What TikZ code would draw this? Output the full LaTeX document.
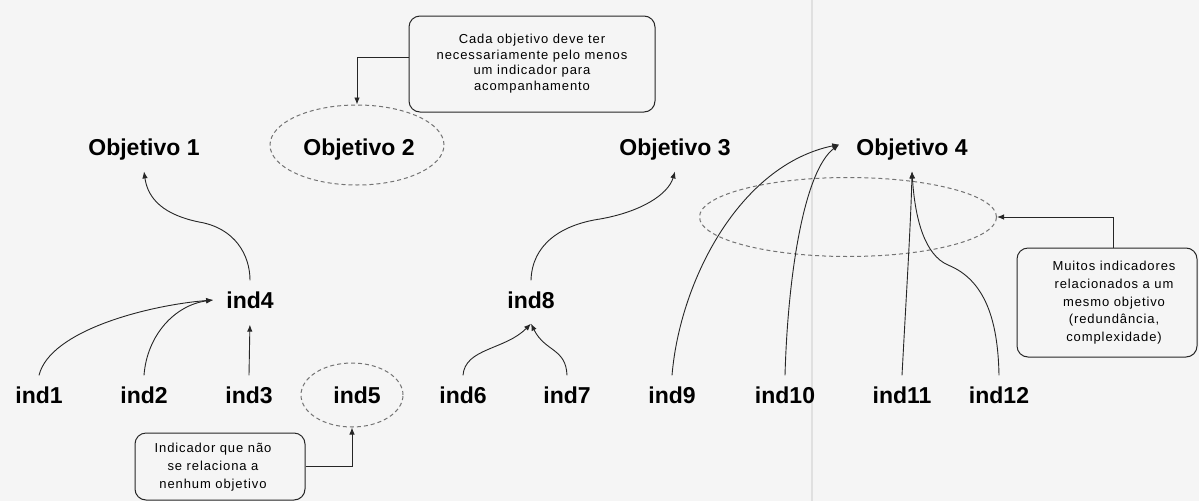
\documentclass[tikz,border=0pt]{standalone}
\usepackage{fontspec}
\setmainfont{Liberation Sans}
\usetikzlibrary{arrows.meta,shapes.geometric,calc}
\begin{document}
\begin{tikzpicture}[x=1pt,y=-1pt,
  lbl/.style={font=\fontsize{23}{26}\selectfont\bfseries, inner xsep=3pt, inner ysep=11pt},
  link/.style={draw=black!85, line width=0.9pt, -{Latex[length=7pt,width=5.5pt]}},
  ring/.style={ellipse, draw=black!55, dash pattern=on 4pt off 3pt, line width=1pt, inner sep=0pt},
  note/.style={draw=black!85, line width=1pt, rounded corners=11pt, align=center, inner sep=0pt,
    font=\fontsize{13}{17}\selectfont\addfontfeature{LetterSpace=7}},
]
% paper and frame
\fill[white!96!black] (0,0) rectangle (1199,501);
\useasboundingbox (0,0) rectangle (1199,501);
\draw[black!12, line width=1.2pt] (812,0) -- (812,501);

% objectives
\node[lbl] (obj1) at (144,149.5) {Objetivo 1};
\node[lbl] (obj2) at (359,149.5) {Objetivo 2};
\node[lbl] (obj3) at (675,149.5) {Objetivo 3};
\node[lbl] (obj4) at (912,149.5) {Objetivo 4};

% indicators
\node[lbl] (ind4) at (250,300) {ind4};
\node[lbl] (ind8) at (531,300) {ind8};
\node[lbl] (ind1) at (39,395) {ind1};
\node[lbl] (ind2) at (144,395) {ind2};
\node[lbl] (ind3) at (249,395) {ind3};
\node[lbl] (ind5) at (357,395) {ind5};
\node[lbl] (ind6) at (463,395) {ind6};
\node[lbl] (ind7) at (567,395) {ind7};
\node[lbl] (ind9) at (672,395) {ind9};
\node[lbl] (ind10) at (785,395) {ind10};
\node[lbl] (ind11) at (902,395) {ind11};
\node[lbl] (ind12) at (999,395) {ind12};

% dashed highlights
\node[ring, minimum width=174pt, minimum height=80pt] (ring2) at (357,145) {};
\node[ring, minimum width=102pt, minimum height=64pt] (ring5) at (352,395) {};
\node[ring, minimum width=297pt, minimum height=79pt] (ring4) at (848,217) {};

% notes
\node[note, minimum width=246pt, minimum height=96pt, font=\fontsize{13}{15.5}\selectfont\addfontfeature{LetterSpace=7}] (note2) at (532,64)
  {\raisebox{8pt}{\begin{tabular}{@{}c@{}}Cada objetivo deve ter\\necessariamente pelo menos\\um indicador para\\acompanhamento\end{tabular}}};
\node[note, minimum width=170pt, minimum height=67pt, font=\fontsize{13}{18}\selectfont\addfontfeature{LetterSpace=7}] (note5) at (220,466.5)
  {\kern-14pt\raisebox{-3.5pt}{\begin{tabular}{@{}c@{}}Indicador que não\\se relaciona a\\nenhum objetivo\end{tabular}}};
\node[note, minimum width=180pt, minimum height=109pt, font=\fontsize{13}{17.75}\selectfont\addfontfeature{LetterSpace=7}] (note4) at (1107,302.5)
  {\kern14pt\raisebox{-5pt}{\begin{tabular}{@{}c@{}}Muitos indicadores\\relacionados a um\\mesmo objetivo\\(redundância,\\complexidade)\end{tabular}}};

% note pointers
\draw[link] ([yshift=7pt]note2.west) -| (ring2.north);
\draw[link] (note5.east) -| (ring5.south);
\draw[link] ([xshift=6pt]note4.north) |- (ring4.east);

% indicator links
\draw[link] (ind1.north) .. controls (50,330) and (150,305) .. ([xshift=-10pt]ind4.west);
\draw[link] (ind2.north) .. controls (147,335) and (175,305) .. ([xshift=-10pt]ind4.west);
\draw[link, shorten >=5pt] (ind3.north) -- (ind4.south);
\draw[link] (ind4.north) .. controls (250,255) and (235,228) .. (199,222)
  .. controls (165,215) and (148,200) .. (obj1.south);

\draw[link] (ind6.north) .. controls (465,348) and (505,350) .. ([yshift=-4pt]ind8.south);
\draw[link] (ind7.north) .. controls (566,348) and (545,352) .. ([yshift=-4pt]ind8.south);
\draw[link] (ind8.north) .. controls (532,245) and (560,225) .. (600,219)
  .. controls (640,212) and (668,195) .. (obj3.south);

\draw[link] (ind9.north) .. controls (680,280) and (740,165) .. ([xshift=-14pt,yshift=5pt]obj4.west);
\draw[link] (ind10.north) .. controls (788,270) and (805,170) .. ([xshift=-14pt,yshift=5pt]obj4.west);
\draw[link] (ind11.north) .. controls (906,300) and (911,220) .. (obj4.south);
\draw[link] (ind12.north) .. controls (998,320) and (985,280) .. (948,265)
  .. controls (925,255) and (915,220) .. (obj4.south);
\end{tikzpicture}
\end{document}
